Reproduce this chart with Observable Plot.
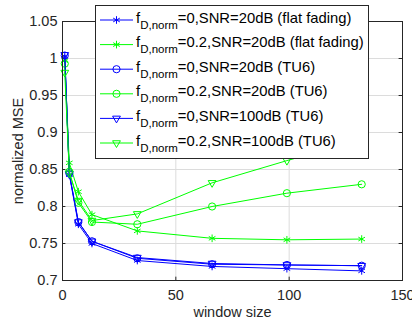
<!DOCTYPE html>
<html>
<head>
<meta charset="utf-8">
<script src="https://cdn.jsdelivr.net/npm/d3@7"></script>
<script src="https://cdn.jsdelivr.net/npm/@observablehq/plot@0.6"></script>
<style>
  html, body { margin: 0; padding: 0; background: #fff; }
  #chart svg { display: block; font-family: "Liberation Sans", Arial, sans-serif; }
</style>
</head>
<body>
<div id="chart"></div>
<script>
// ---- data ----
const windowSizes = [1, 3, 7, 13, 33, 66, 99, 132];
const seriesNames = ["=0,SNR=20dB (flat fading)", "=0.2,SNR=20dB (flat fading)", "=0,SNR=20dB (TU6)", "=0.2,SNR=20dB (TU6)", "=0,SNR=100dB (TU6)", "=0.2,SNR=100dB (TU6)"];
const mseFlat0 = [1.003, 0.843, 0.776, 0.750, 0.727, 0.719, 0.716, 0.713];
const mseFlat02 = [0.997, 0.859, 0.820, 0.789, 0.767, 0.757, 0.755, 0.756];
const mseTU0 = [1.004, 0.845, 0.779, 0.753, 0.730, 0.722, 0.721, 0.720];
const mseTU02 = [0.993, 0.847, 0.805, 0.779, 0.776, 0.800, 0.818, 0.830];
const mseTU0hi = [1.005, 0.844, 0.779, 0.753, 0.731, 0.723, 0.721, 0.720];
const mseTU02hi = [0.981, 0.845, 0.808, 0.781, 0.790, 0.832, 0.862, 0.890];
const xTicks = [0, 50, 100, 150];
const yTicks = [0.7, 0.75, 0.8, 0.85, 0.9, 0.95, 1, 1.05];

const BLUE = "#0000ff", GREEN = "#00ff00";
const triangleDown = {
  draw(ctx, size) {
    const r = Math.sqrt(size / Math.PI) * 1.25;
    ctx.moveTo(0, r);
    ctx.lineTo(r * 0.866, -r * 0.5);
    ctx.lineTo(-r * 0.866, -r * 0.5);
    ctx.closePath();
  }
};
const seriesValues = [mseFlat0, mseFlat02, mseTU0, mseTU02, mseTU0hi, mseTU02hi];
const seriesColors = [BLUE, GREEN, BLUE, GREEN, BLUE, GREEN];
const seriesSymbols = ["asterisk", "asterisk", "circle", "circle", triangleDown, triangleDown];

const rows = [];
seriesValues.forEach((vals, s) => vals.forEach((v, i) => rows.push({s, x: windowSizes[i], y: v})));

const marks = [
  Plot.gridX(xTicks, {stroke: "#dcdcdc", strokeOpacity: 1}),
  Plot.gridY(yTicks, {stroke: "#dcdcdc", strokeOpacity: 1}),
  Plot.ruleX(xTicks, {y1: 0.7, y2: 0.7045, stroke: "#262626"}),
  Plot.ruleX(xTicks, {y1: 1.05, y2: 1.0455, stroke: "#262626"}),
  Plot.ruleY(yTicks, {x1: 0, x2: 1.5, stroke: "#262626"}),
  Plot.ruleY(yTicks, {x1: 150, x2: 148.5, stroke: "#262626"}),
];
seriesValues.forEach((vals, s) => {
  const d = rows.filter(r => r.s === s);
  marks.push(Plot.line(d, {x: "x", y: "y", stroke: seriesColors[s], strokeWidth: 1}));
  marks.push(Plot.dot(d, {x: "x", y: "y", stroke: seriesColors[s], symbol: () => seriesSymbols[s], r: 3.6, strokeWidth: 1}));
});
marks.push(Plot.frame({stroke: "#262626", strokeWidth: 1}));
marks.push(Plot.axisX(xTicks, {tickSize: 0, tickPadding: 9, fontSize: 14.5, color: "#262626", label: "window size", labelAnchor: "center", labelArrow: "none", labelOffset: 36}));
marks.push(Plot.axisY(yTicks, {tickSize: 0, tickPadding: 5, fontSize: 14.5, color: "#262626", tickFormat: d => String(+d.toFixed(2)), label: "normalized MSE", labelAnchor: "center", labelArrow: "none", labelOffset: 50}));

const chart = Plot.plot({
  width: 412, height: 320,
  marginLeft: 62, marginRight: 10, marginTop: 21, marginBottom: 40,
  x: {domain: [0, 150]},
  y: {domain: [0.7, 1.05]},
  style: {fontFamily: "Liberation Sans, Arial, sans-serif", fontSize: "14.5px", color: "#262626", background: "white", overflow: "visible"},
  marks
});
document.getElementById("chart").appendChild(chart);

// ---- legend ----
const svg = d3.select(chart);
const lg = svg.append("g").attr("font-family", "Liberation Sans, Arial, sans-serif")
  .attr("fill", "#000").attr("text-anchor", "start");
lg.append("rect").attr("x", 95.5).attr("y", 5.5).attr("width", 273).attr("height", 153)
  .attr("fill", "white").attr("stroke", "#262626").attr("stroke-width", 1);
seriesNames.forEach((name, i) => {
  const cy = 20 + i * 24.6;
  lg.append("line").attr("x1", 100).attr("x2", 133).attr("y1", cy).attr("y2", cy)
    .attr("stroke", seriesColors[i]).attr("stroke-width", 1);
  const sym = typeof seriesSymbols[i] === "string" ? (seriesSymbols[i] === "asterisk" ? d3.symbolAsterisk : d3.symbolCircle) : seriesSymbols[i];
  lg.append("path").attr("transform", `translate(116.5,${cy})`)
    .attr("d", d3.symbol(sym, 3.6 * 3.6 * Math.PI)())
    .attr("fill", "none").attr("stroke", seriesColors[i]).attr("stroke-width", 1);
  const t = lg.append("text").attr("x", 136).attr("y", cy + 2.5).attr("font-size", 14.8).attr("text-anchor", "start");
  t.append("tspan").text("f");
  t.append("tspan").attr("font-size", 11.5).attr("dy", 6).text("D,norm");
  t.append("tspan").attr("dy", -6).text(name);
});
</script>
</body>
</html>
